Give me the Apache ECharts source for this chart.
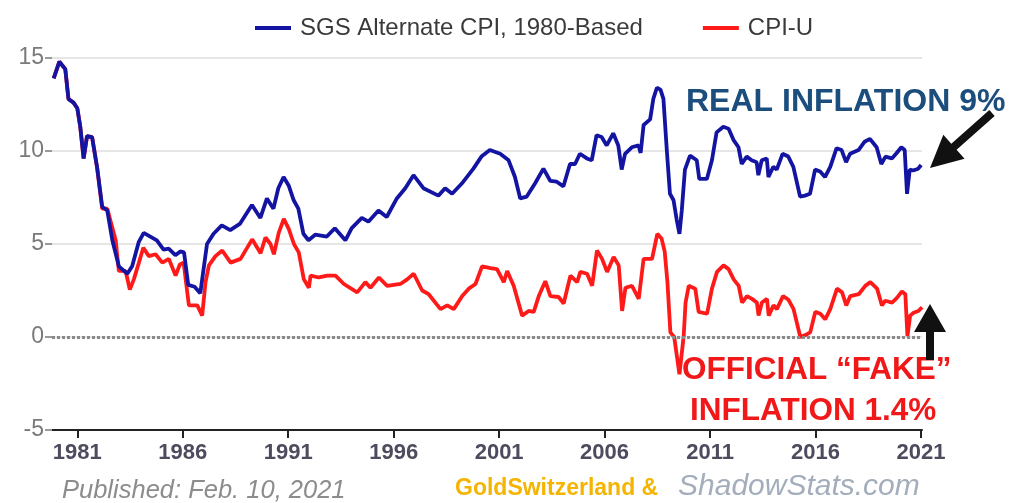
<!DOCTYPE html>
<html>
<head>
<meta charset="utf-8">
<script src="https://cdn.jsdelivr.net/npm/echarts@6/dist/echarts.min.js"></script>
<style>
html,body{margin:0;padding:0;background:#fff;}
#chart{width:1012px;height:503px;}
</style>
</head>
<body>
<div id="chart"></div>
<script>
// ---- data (year, % change) ----
const sgsName = 'SGS Alternate CPI, 1980-Based';
const cpiName = 'CPI-U';
const xTickYears = [1981, 1986, 1991, 1996, 2001, 2006, 2011, 2016, 2021];
const yTicks = [-5, 0, 5, 10, 15];

const sgsSeries = [
[1979.88,13.9],[1980.15,14.8],[1980.43,14.4],[1980.58,12.8],[1980.82,12.6],[1981.0,12.3],[1981.14,11.3],[1981.3,9.6],[1981.46,10.8],[1981.7,10.75],[1981.94,9.1],
[1982.18,7.0],[1982.42,6.8],[1982.66,5.2],[1982.97,3.8],[1983.37,3.4],[1983.6,3.8],[1983.91,5.1],[1984.15,5.6],[1984.46,5.4],[1984.77,5.2],
[1985.09,4.7],[1985.33,4.75],[1985.65,4.4],[1985.88,4.6],[1986.06,4.55],[1986.26,2.8],[1986.56,2.7],[1986.83,2.35],[1987.15,5.0],[1987.46,5.55],
[1987.85,6.0],[1988.25,5.75],[1988.72,6.1],[1989.28,7.1],[1989.68,6.4],[1989.99,7.45],[1990.3,6.9],[1990.53,8.0],[1990.78,8.6],[1991.02,8.15],
[1991.26,7.35],[1991.48,6.9],[1991.72,5.55],[1991.96,5.2],[1992.28,5.5],[1992.83,5.4],[1993.21,5.85],[1993.71,5.2],[1994.01,5.85],[1994.49,6.4],
[1994.8,6.2],[1995.28,6.8],[1995.67,6.45],[1996.15,7.45],[1996.55,8.0],[1996.94,8.7],[1997.41,8.0],[1998.12,7.6],[1998.44,8.0],[1998.77,7.7],
[1999.23,8.25],[1999.78,9.05],[2000.16,9.7],[2000.56,10.05],[2001.05,9.85],[2001.45,9.5],[2001.75,8.6],[2002.0,7.45],[2002.31,7.55],[2002.7,8.25],
[2003.1,9.05],[2003.42,8.4],[2003.73,8.35],[2004.05,8.1],[2004.36,9.3],[2004.6,9.3],[2004.83,9.85],[2005.16,9.6],[2005.39,9.5],[2005.62,10.85],
[2005.86,10.75],[2006.1,10.3],[2006.41,10.95],[2006.65,10.3],[2006.81,9.0],[2006.97,9.85],[2007.29,10.2],[2007.61,10.3],[2007.71,9.9],[2007.85,11.4],
[2008.16,11.7],[2008.31,12.8],[2008.48,13.4],[2008.65,13.3],[2008.79,12.8],[2008.95,10.05],[2009.1,7.7],[2009.27,7.35],[2009.42,6.3],[2009.55,5.55],
[2009.66,6.8],[2009.81,9.0],[2010.05,9.75],[2010.37,9.5],[2010.49,8.5],[2010.85,8.5],[2011.09,9.5],[2011.31,11.0],[2011.63,11.3],[2011.88,11.2],
[2012.11,10.6],[2012.35,10.2],[2012.5,9.3],[2012.74,9.7],[2012.97,9.5],[2013.21,9.4],[2013.29,8.7],[2013.45,9.5],[2013.69,9.6],[2013.77,8.6],
[2014.0,9.15],[2014.16,9.0],[2014.44,9.85],[2014.71,9.7],[2014.95,9.15],[2015.27,7.55],[2015.5,7.6],[2015.74,7.7],[2015.98,9.0],[2016.22,8.9],
[2016.45,8.6],[2016.7,9.15],[2017.0,10.15],[2017.24,10.05],[2017.45,9.4],[2017.64,9.85],[2018.04,10.05],[2018.33,10.5],[2018.58,10.65],[2018.9,10.2],
[2019.12,9.3],[2019.32,9.7],[2019.62,9.6],[2019.82,9.85],[2020.07,10.2],[2020.23,10.05],[2020.34,7.7],[2020.47,9.0],[2020.63,8.95],[2020.87,9.05],[2021.01,9.25]
];

const cpiSeries = [
[1979.88,13.9],[1980.15,14.8],[1980.43,14.4],[1980.58,12.8],[1980.82,12.6],[1981.0,12.3],[1981.14,11.3],[1981.3,9.6],[1981.46,10.8],[1981.7,10.75],[1981.94,9.1],
[1982.18,6.9],[1982.42,6.9],[1982.82,5.2],[1982.97,3.55],[1983.29,3.55],[1983.49,2.55],[1983.68,3.1],[1983.92,4.0],[1984.13,4.8],[1984.39,4.35],
[1984.71,4.45],[1985.03,4.0],[1985.34,4.2],[1985.66,3.3],[1985.86,3.9],[1986.04,4.0],[1986.29,1.7],[1986.69,1.7],[1986.92,1.15],[1987.08,2.95],
[1987.24,3.85],[1987.55,4.35],[1987.87,4.65],[1988.27,4.0],[1988.74,4.2],[1989.29,5.25],[1989.69,4.5],[1989.92,5.35],[1990.16,5.0],[1990.32,4.45],
[1990.55,5.6],[1990.79,6.35],[1991.03,5.8],[1991.27,5.0],[1991.5,4.55],[1991.74,3.1],[1991.98,2.65],[1992.06,3.3],[1992.45,3.2],[1992.85,3.3],
[1993.24,3.3],[1993.64,2.85],[1994.27,2.4],[1994.66,2.95],[1994.9,2.65],[1995.3,3.2],[1995.69,2.75],[1996.32,2.85],[1996.64,3.1],[1996.95,3.4],
[1997.35,2.5],[1997.66,2.3],[1998.22,1.5],[1998.54,1.7],[1998.85,1.5],[1999.25,2.2],[1999.56,2.6],[1999.88,2.85],[2000.19,3.8],[2000.59,3.7],
[2000.9,3.65],[2001.22,2.95],[2001.38,3.55],[2001.69,2.75],[2002.09,1.15],[2002.4,1.4],[2002.64,1.35],[2002.88,2.2],[2003.19,3.0],[2003.43,2.2],
[2003.82,2.15],[2004.06,1.8],[2004.38,3.3],[2004.7,2.95],[2004.85,3.5],[2005.17,3.4],[2005.41,2.75],[2005.64,4.65],[2005.88,4.2],[2006.12,3.5],
[2006.43,4.3],[2006.67,3.85],[2006.83,1.4],[2006.99,2.65],[2007.3,2.75],[2007.62,2.05],[2007.85,4.2],[2008.25,4.2],[2008.5,5.55],[2008.7,5.3],
[2008.85,4.6],[2008.98,2.95],[2009.12,0.25],[2009.3,0.0],[2009.55,-2.0],[2009.75,0.05],[2009.84,1.85],[2009.99,2.75],[2010.3,2.6],[2010.46,1.35],
[2010.86,1.25],[2011.09,2.6],[2011.33,3.5],[2011.64,3.85],[2011.88,3.65],[2012.12,3.1],[2012.36,2.75],[2012.52,1.85],[2012.75,2.2],[2012.99,2.05],
[2013.22,1.85],[2013.3,1.15],[2013.46,1.85],[2013.7,2.05],[2013.78,1.15],[2014.01,1.7],[2014.17,1.5],[2014.46,2.2],[2014.72,2.0],[2014.96,1.5],
[2015.28,0.0],[2015.52,0.1],[2015.75,0.25],[2015.99,1.35],[2016.23,1.25],[2016.46,0.95],[2016.7,1.5],[2017.02,2.6],[2017.26,2.4],[2017.46,1.7],
[2017.65,2.2],[2018.05,2.3],[2018.36,2.75],[2018.6,2.95],[2018.92,2.6],[2019.15,1.7],[2019.31,1.95],[2019.63,1.85],[2019.86,2.1],[2020.1,2.45],
[2020.26,2.3],[2020.36,0.05],[2020.49,1.15],[2020.65,1.3],[2020.88,1.4],[2021.05,1.6]
];

// ---- chart ----
const FONT = 'Arial, "Liberation Sans", Helvetica, sans-serif';

function arrowPoints(tail, tip, shaftW, headW, headL) {
  const dx = tip[0] - tail[0], dy = tip[1] - tail[1];
  const len = Math.sqrt(dx * dx + dy * dy);
  const ux = dx / len, uy = dy / len;
  const px = -uy, py = ux;
  const bx = tip[0] - ux * headL, by = tip[1] - uy * headL;
  return [
    [tail[0] + px * shaftW / 2, tail[1] + py * shaftW / 2],
    [bx + px * shaftW / 2, by + py * shaftW / 2],
    [bx + px * headW / 2, by + py * headW / 2],
    tip,
    [bx - px * headW / 2, by - py * headW / 2],
    [bx - px * shaftW / 2, by - py * shaftW / 2],
    [tail[0] - px * shaftW / 2, tail[1] - py * shaftW / 2]
  ];
}

function txt(text, x, y, font, fill) {
  return {
    type: 'text', x: x, y: y, z: 100,
    style: { text: text, font: font, fill: fill,
      align: 'left', verticalAlign: 'middle', textAlign: 'left', textVerticalAlign: 'middle' }
  };
}

const chart = echarts.init(document.getElementById('chart'), null, { renderer: 'canvas' });

chart.setOption({
  animation: false,
  backgroundColor: '#ffffff',
  textStyle: { fontFamily: FONT },
  grid: { left: 52, right: 90, top: 58, bottom: 73, containLabel: false },
  legend: {
    data: [sgsName, cpiName],
    left: 250, top: 11,
    icon: 'rect', itemWidth: 36, itemHeight: 4, itemGap: 60,
    textStyle: { fontSize: 24, color: '#3a3a3a', fontFamily: FONT, padding: [0, 0, 0, 4] }
  },
  xAxis: {
    type: 'value',
    min: 1979.8, max: 2021.05,
    axisLine: { show: true, onZero: false, lineStyle: { color: '#222', width: 2 } },
    axisTick: { show: true, customValues: xTickYears, length: 8, lineStyle: { color: '#222', width: 2 } },
    axisLabel: { customValues: xTickYears, fontSize: 22, fontWeight: 'bold', color: '#4d4b5e', margin: 12, fontFamily: FONT,
      formatter: v => String(v) },
    splitLine: { show: false }
  },
  yAxis: {
    type: 'value',
    min: -5, max: 15, interval: 5,
    axisLine: { show: false },
    axisTick: { show: true, length: 7, lineStyle: { color: '#999', width: 2 } },
    axisLabel: { fontSize: 23, color: '#7a7a7a', margin: 8, fontFamily: FONT },
    splitLine: { show: true, lineStyle: { color: '#dedede', width: 1.5 } }
  },
  series: [
    {
      name: cpiName, type: 'line', data: cpiSeries, showSymbol: false, symbol: 'none',
      lineStyle: { color: '#ff1a1a', width: 3.8 }, itemStyle: { color: '#ff1a1a' }, z: 3,
      markLine: {
        silent: true, symbol: ['none', 'none'], label: { show: false },
        lineStyle: { color: '#8a8a8a', type: [3, 2], width: 3 },
        data: [{ yAxis: 0 }]
      }
    },
    {
      name: sgsName, type: 'line', data: sgsSeries, showSymbol: false, symbol: 'none',
      lineStyle: { color: '#1414a2', width: 3.8 }, itemStyle: { color: '#1414a2' }, z: 4
    }
  ],
  graphic: [
    txt('REAL INFLATION 9%', 686, 102, 'bold 32px ' + FONT, '#1b4d7d'),
    txt('OFFICIAL \u201CFAKE\u201D', 682, 370, 'bold 31.5px ' + FONT, '#f01818'),
    txt('INFLATION 1.4%', 690, 411, 'bold 31.5px ' + FONT, '#f01818'),
    txt('Published: Feb. 10, 2021', 62, 491, 'italic 25.5px ' + FONT, '#8c8c8c'),
    txt('GoldSwitzerland &', 455, 489, 'bold 23px ' + FONT, '#f4b400'),
    txt('ShadowStats.com', 678, 487, 'italic 30px ' + FONT, '#a3adbb'),
    { type: 'polygon', z: 100, shape: { points: arrowPoints([992, 113], [930, 168], 8, 32, 32) }, style: { fill: '#111' } },
    { type: 'polygon', z: 100, shape: { points: arrowPoints([930, 360], [930, 304], 8, 32, 28) }, style: { fill: '#111' } }
  ]
});
</script>
</body>
</html>
